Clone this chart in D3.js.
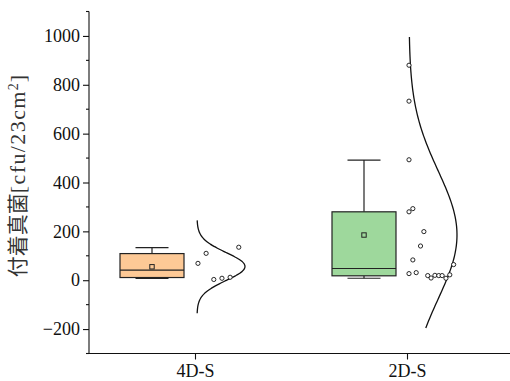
<!DOCTYPE html>
<html lang="ja">
<head>
  <meta charset="UTF-8" />
  <title>付着真菌 box + half normal</title>
  <script src="https://d3js.org/d3.v7.min.js"></script>
  <style>
    body { margin: 0; padding: 0; background: #fff; }
    svg { display: block; }
    text { font-family: "Liberation Serif", "Noto Sans CJK JP", serif; fill: #111; }
    .tick text { font-size: 18px; }
  </style>
</head>
<body>
<svg width="510" height="381"></svg>
<script>
// groups on the x axis
const groups = ['4D-S', '2D-S'];
const boxColors = ['#FDC996', '#9ED89C'];

// raw points
const values4D = [110, 69, 135, 3, 8, 12];
const values2D = [880, 733, 493, 280, 293, 199, 140, 83, 64, 27, 31, 19, 9, 20, 19, 19, 8, 22];
// sideways jitter of the points (fraction of the half-curve width)
const jitter4D = [0.19, 0.02, 0.87, 0.35, 0.52, 0.69];
const jitter2D = [0, 0, 0, 0, 0.08, 0.31, 0.24, 0.08, 0.93, 0, 0.15, 0.39, 0.46, 0.54, 0.62, 0.69, 0.77, 0.85];

// box statistics: [whiskerLow, q1, median, q3, whiskerHigh, mean]
const stats4D = [7, 11, 41, 109, 133, 55];
const stats2D = [8, 18, 48, 280, 492, 185];

// span over which the normal curve is drawn
const curveRange4D = [-135, 245];
const curveRange2D = [-196, 996];

const yTicks = [-200, 0, 200, 400, 600, 800, 1000];

const series = [
  { name: groups[0], vals: values4D, jit: jitter4D, st: stats4D, rng: curveRange4D, color: boxColors[0] },
  { name: groups[1], vals: values2D, jit: jitter2D, st: stats2D, rng: curveRange2D, color: boxColors[1] }
];

const svg = d3.select('svg');
const L = 89, T = 11.5, B = 353.5;

const y = d3.scaleLinear().domain([-300, 1100]).range([B, T]);
const x = d3.scalePoint().domain(groups).range([L, 513]).padding(0.5);
const step = x.step();

const boxOff = -43 / 212 * step, boxW = 64 / 212 * step, capW = 33 / 212 * step;
const curveOff = 2 / 212 * step, curveW = 48 / 212 * step;

// y axis
const yAxis = svg.append('g').attr('transform', `translate(${L},0)`)
  .call(d3.axisLeft(y).tickValues(yTicks).tickSize(6).tickPadding(3)
    .tickFormat(d => d < 0 ? '\u2212' + Math.abs(d) : d));
yAxis.select('.domain').attr('d', `M0,${T}V${B}`);
yAxis.selectAll('line, path').attr('stroke', '#111').attr('stroke-width', 1.1);

// minor ticks
svg.append('g').selectAll('line')
  .data(d3.range(-300, 1101, 100).filter(v => v % 200 !== 0))
  .join('line')
  .attr('x1', L - 3).attr('x2', L)
  .attr('y1', d => y(d)).attr('y2', d => y(d))
  .attr('stroke', '#111').attr('stroke-width', 1.1);

// x axis
const xAxis = svg.append('g').attr('transform', `translate(0,${B})`)
  .call(d3.axisBottom(x).tickSize(6).tickPadding(5));
xAxis.select('.domain').attr('d', `M${L},0H510`);
xAxis.selectAll('line, path').attr('stroke', '#111').attr('stroke-width', 1.1);

// y title
const title = svg.append('text')
  .attr('transform', 'translate(25,176) rotate(-90)')
  .attr('text-anchor', 'middle')
  .style('font-size', '21px').style('fill', '#333');
title.append('tspan').text('付着真菌');
title.append('tspan').style('font-size', '22px').style('letter-spacing', '1.4px').text('[cfu/23cm');
title.append('tspan').attr('baseline-shift', 'super').style('font-size', '14px').text('2');
title.append('tspan').attr('dx', 1).style('font-size', '22px').text(']');

series.forEach(s => {
  const cx = x(s.name);
  const bx = cx + boxOff;
  const [wlo, q1, med, q3, whi, mean] = s.st;
  const g = svg.append('g').attr('stroke', '#222').attr('stroke-width', 1.2);

  // whiskers
  g.append('line').attr('x1', bx).attr('x2', bx).attr('y1', y(whi)).attr('y2', y(q3));
  g.append('line').attr('x1', bx).attr('x2', bx).attr('y1', y(q1)).attr('y2', y(wlo));
  [whi, wlo].forEach(v => g.append('line')
    .attr('x1', bx - capW / 2).attr('x2', bx + capW / 2).attr('y1', y(v)).attr('y2', y(v)));

  // box
  g.append('rect').attr('x', bx - boxW / 2).attr('width', boxW)
    .attr('y', y(q3)).attr('height', y(q1) - y(q3)).attr('fill', s.color);
  g.append('line').attr('x1', bx - boxW / 2).attr('x2', bx + boxW / 2)
    .attr('y1', y(med)).attr('y2', y(med));
  g.append('rect').attr('x', bx - 2.2).attr('y', y(mean) - 2.2)
    .attr('width', 4.4).attr('height', 4.4).attr('fill', 'none').attr('stroke-width', 1);

  // half normal curve
  const m = d3.mean(s.vals), sd = d3.deviation(s.vals);
  const base = cx + curveOff;
  const pts = d3.range(0, 121).map(i => s.rng[0] + (s.rng[1] - s.rng[0]) * i / 120);
  svg.append('path')
    .datum(pts)
    .attr('fill', 'none').attr('stroke', '#111').attr('stroke-width', 1.3)
    .attr('d', d3.line()
      .x(v => base + curveW * Math.exp(-0.5 * ((v - m) / sd) ** 2))
      .y(v => y(v))
      .curve(d3.curveBasis));

  // points
  svg.append('g').selectAll('circle').data(s.vals).join('circle')
    .attr('cx', (d, i) => base + s.jit[i] * curveW)
    .attr('cy', d => y(d))
    .attr('r', 2.1)
    .attr('fill', '#fff').attr('stroke', '#111').attr('stroke-width', 0.9);
});
</script>
</body>
</html>
